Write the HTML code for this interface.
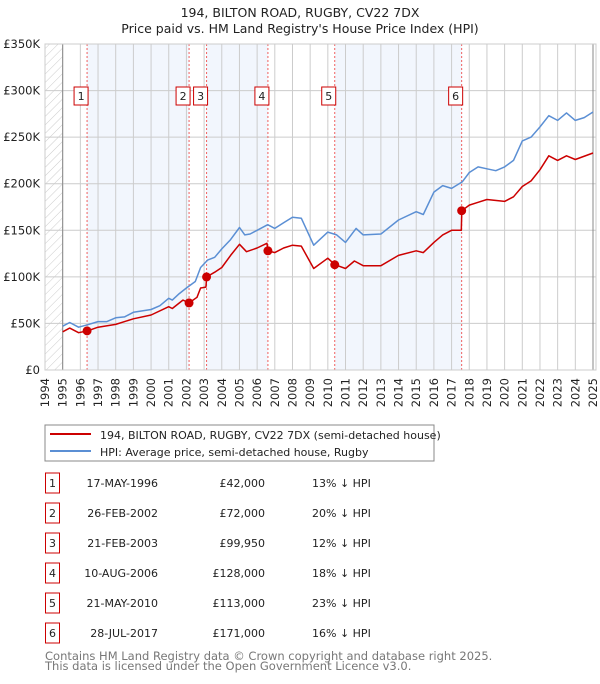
<!DOCTYPE html>
<html><head><meta charset="utf-8"><style>
body{margin:0;background:#fff;font-family:"DejaVu Sans","Liberation Sans",sans-serif;}
svg text{font-family:"DejaVu Sans","Liberation Sans",sans-serif;}
</style></head><body>
<svg id="c" width="600" height="680" viewBox="0 0 600 680" xmlns="http://www.w3.org/2000/svg">
<defs><pattern id="hatch" width="6" height="6" patternUnits="userSpaceOnUse" patternTransform="rotate(45)"><line x1="0" y1="0" x2="0" y2="6" stroke="#ccc" stroke-width="1"/></pattern></defs>
<text x="300" y="17" text-anchor="middle" font-size="12.5" fill="#222">194, BILTON ROAD, RUGBY, CV22 7DX</text>
<text x="300" y="33" text-anchor="middle" font-size="12.5" fill="#222">Price paid vs. HM Land Registry's House Price Index (HPI)</text>
<g id="plot"></g>
<g id="legend">
<rect x="45" y="425" width="389" height="36" fill="#fff" stroke="#888"/>
<line x1="50" y1="434" x2="91" y2="434" stroke="#cc0000" stroke-width="2"/>
<text x="100" y="439" font-size="11" fill="#222">194, BILTON ROAD, RUGBY, CV22 7DX (semi-detached house)</text>
<line x1="50" y1="451" x2="91" y2="451" stroke="#5b8fd4" stroke-width="2"/>
<text x="100" y="456" font-size="11" fill="#222">HPI: Average price, semi-detached house, Rugby</text>
</g>
<g id="table"></g>
<text x="45" y="660" font-size="11.5" fill="#777">Contains HM Land Registry data © Crown copyright and database right 2025.</text>
<text x="45" y="670" font-size="11.5" fill="#777">This data is licensed under the Open Government Licence v3.0.</text>
</svg>
<script>
const hpiYears=[1995,1995.4,1995.9,1996.4,1997,1997.5,1998,1998.5,1999,2000,2000.5,2001,2001.2,2001.6,2002,2002.5,2002.8,2003.2,2003.6,2004,2004.5,2005,2005.3,2005.6,2006,2006.6,2007,2007.5,2008,2008.5,2009.2,2010,2010.5,2011,2011.6,2012,2013,2014,2015,2015.4,2016,2016.5,2017,2017.6,2018,2018.5,2019,2019.5,2020,2020.5,2021,2021.5,2022,2022.5,2023,2023.5,2024,2024.5,2025];
const hpiValues=[47000,51000,46000,48500,52000,52000,56000,57000,62000,65000,69000,77000,75000,82000,88000,95000,110000,118000,121000,130000,140000,153000,145000,146000,150000,156000,152000,158000,164000,163000,134000,148000,145000,137000,152000,145000,146000,161000,170000,167000,191000,198000,195000,202000,212000,218000,216000,214000,218000,225000,246000,250000,261000,273000,268000,276000,268000,271000,277000];
const propYears=[1995,1995.4,1995.9,1996.4,1997,1998,1999,2000,2001,2001.2,2001.8,2002.15,2002.6,2002.8,2003.1,2003.15,2003.6,2004,2004.5,2005,2005.4,2006,2006.55,2006.62,2007,2007.5,2008,2008.5,2009.2,2010,2010.4,2011,2011.5,2012,2013,2014,2015,2015.4,2016,2016.5,2017,2017.55,2017.58,2018,2018.5,2019,2020,2020.5,2021,2021.5,2022,2022.5,2023,2023.5,2024,2025];
const propValues=[41000,45000,40000,42000,46000,49000,55000,59000,68000,66000,75000,72000,78000,88000,89000,99950,105000,110000,123000,135000,127000,131000,136000,128000,126000,131000,134000,133000,109000,120000,113000,109000,117000,112000,112000,123000,128000,126000,137000,145000,150000,150000,171000,177000,180000,183000,181000,186000,197000,203000,215000,230000,225000,230000,226000,233000];
const saleYears=[1996.38,2002.15,2003.14,2006.61,2010.39,2017.57];
const salePrices=[42000,72000,99950,128000,113000,171000];
const saleDates=["17-MAY-1996","26-FEB-2002","21-FEB-2003","10-AUG-2006","21-MAY-2010","28-JUL-2017"];
const salePriceLabels=["£42,000","£72,000","£99,950","£128,000","£113,000","£171,000"];
const saleHpiDiff=["13% ↓ HPI","20% ↓ HPI","12% ↓ HPI","18% ↓ HPI","23% ↓ HPI","16% ↓ HPI"];
const yTicks=[0,50000,100000,150000,200000,250000,300000,350000];
const yTickLabels=["£0","£50K","£100K","£150K","£200K","£250K","£300K","£350K"];
const xTicks=[1994,1995,1996,1997,1998,1999,2000,2001,2002,2003,2004,2005,2006,2007,2008,2009,2010,2011,2012,2013,2014,2015,2016,2017,2018,2019,2020,2021,2022,2023,2024,2025];

const X0=45,X1=593,Y0=370,Y1=44;
const xs=y=>X0+(y-1994)*(X1-X0)/31;
const ys=v=>Y0-v*(Y0-Y1)/350000;
const NS="http://www.w3.org/2000/svg";
const plot=document.getElementById('plot');
function mk(tag,attrs,parent){const e=document.createElementNS(NS,tag);for(const k in attrs)e.setAttribute(k,attrs[k]);(parent||plot).appendChild(e);return e;}

let e=mk('rect',{x:X0,y:Y1,width:X1-X0,height:Y0-Y1,fill:'#fff'});


e=mk('rect',{x:X0,y:Y1,width:xs(1995)-X0,height:Y0-Y1,fill:'url(#hatch)'});


const bands=[[0,1],[2,3],[4,5]];
bands.forEach((b,i)=>{
  const r=mk('rect',{x:xs(saleYears[b[0]]),y:Y1,width:xs(saleYears[b[1]])-xs(saleYears[b[0]]),height:Y0-Y1,fill:'#eef3fc',opacity:0.75});
  
  
});
xTicks.forEach(t=>{
  const l=mk('line',{x1:xs(t),x2:xs(t),y1:Y1,y2:Y0,stroke:'#ccc','stroke-width':1});
  
  
  const x=xs(t)+4;
  const tx=mk('text',{x:x,y:378,transform:`rotate(-90 ${x} 378)`,'text-anchor':'end','font-size':11.5,fill:'#222'});
  tx.textContent=t;
  
  
});
yTicks.forEach((t,i)=>{
  const l=mk('line',{x1:X0,x2:X1+3,y1:ys(t),y2:ys(t),stroke:'#ccc','stroke-width':1});
  
  
  const tx=mk('text',{x:40,y:ys(t)+4,'text-anchor':'end','font-size':11.5,fill:'#222'});
  tx.textContent=yTickLabels[i];
  
  
});
e=mk('line',{x1:xs(1995),x2:xs(1995),y1:Y1,y2:Y0,stroke:'#888'});


e=mk('line',{x1:xs(2025),x2:xs(2025),y1:Y1,y2:Y0,stroke:'#888'});


saleYears.forEach((y,i)=>{
  const l=mk('line',{x1:xs(y),x2:xs(y),y1:Y1,y2:Y0,stroke:'#f06060','stroke-width':1,'stroke-dasharray':'2,2'});
  
  
});
function path(xa,va,color,name){
  const d=xa.map((x,i)=>(i?'L':'M')+xs(x).toFixed(1)+','+ys(va[i]).toFixed(1)).join('');
  const p=mk('path',{d:d,fill:'none',stroke:color,'stroke-width':1.5,'stroke-linejoin':'round'});
  
  
}
path(hpiYears,hpiValues,'#5b8fd4','hpi-line');
path(propYears,propValues,'#cc0000','property-line');
saleYears.forEach((y,i)=>{
  const c=mk('circle',{cx:xs(y),cy:ys(salePrices[i]),r:4.5,fill:'#cc0000'});
  
  
  const b=mk('rect',{x:xs(y)-13,y:87,width:14,height:18,fill:'#fff',stroke:'#cc0000'});
  
  
  const t=mk('text',{x:xs(y)-6,y:100,'text-anchor':'middle','font-size':11,fill:'#222'});
  t.textContent=i+1;
  
  
});
e=mk('rect',{x:X0,y:Y1,width:X1-X0+3,height:Y0-Y1,fill:'none',stroke:'#ccc'});



const table=document.getElementById('table');
saleDates.forEach((d,i)=>{
  const cy=483+i*30;
  const b=mk('rect',{x:45.5,y:cy-10,width:14,height:20,fill:'#fff',stroke:'#cc0000'},table);
  
  
  const n=mk('text',{x:52.5,y:cy+4,'text-anchor':'middle','font-size':11,fill:'#222'},table);
  n.textContent=i+1;
  
  
  const dt=mk('text',{x:158,y:cy+4,'text-anchor':'end','font-size':11,fill:'#222'},table);
  dt.textContent=d;
  
  
  const p=mk('text',{x:265,y:cy+4,'text-anchor':'end','font-size':11,fill:'#222'},table);
  p.textContent=salePriceLabels[i];
  
  
  const h=mk('text',{x:312,y:cy+4,'font-size':11,fill:'#222'},table);
  h.textContent=saleHpiDiff[i];
  
  
});
</script>
</body></html>
